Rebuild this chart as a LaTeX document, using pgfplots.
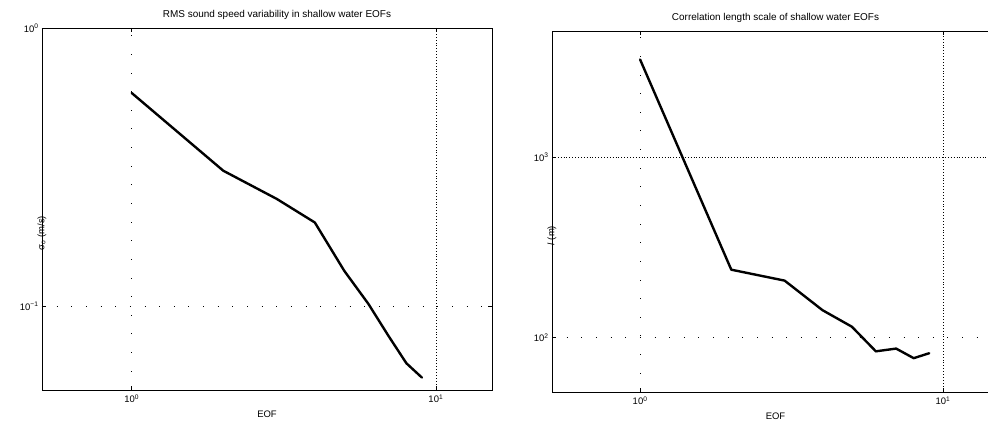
\documentclass[border=0pt]{standalone}
\usepackage{pgfplots}
\pgfplotsset{compat=1.18}
\usepackage{fontspec}
\setmainfont{Liberation Sans}

% RMS sound speed variability per EOF (m/s)
\pgfplotstableread{
eof sigma
1 0.584
2 0.307
3 0.243
4 0.200
5 0.134
6 0.102
7 0.078
8 0.0624
9 0.0554
}\rmsdata

% correlation length scale per EOF (m)
\pgfplotstableread{
eof len
1 3475
2 238
3 207
4 142
5 115
6 84
7 87
8 77
9 82
}\lendata

\pgfplotsset{
  every axis/.append style={
    scale only axis,
    anchor=south west,
    axis line style={line width=0.8pt},
    tick align=inside,
    major tick length=4bp,
    xminorticks=false, yminorticks=false,
    tick style={line width=0.6pt, black},
    xtick={10}, xticklabels={10\textsuperscript{1}},
    extra x ticks={1}, extra x tick labels={10\textsuperscript{0}},
    extra x tick style={major grid style={black, line width=0.7pt, dash pattern=on 0.7pt off 18pt}},
    extra y tick style={major grid style={black, line width=0.7pt, dash pattern=on 0.7pt off 14pt}},
    xmajorgrids, ymajorgrids,
    major grid style={black, line width=0.7pt, dash pattern=on 0.7pt off 2.2pt},
    font=\fontsize{9.5}{11}\selectfont,
    title style={font=\fontsize{10}{12}\selectfont, at={(axis description cs:0.5,1)}, anchor=south, yshift=-1bp},
    xlabel=EOF,
    xlabel style={at={(axis description cs:0.5,0)}, anchor=center, yshift=-24bp},
    ylabel style={at={(axis description cs:0,0.5)}, anchor=center, xshift=-24bp},
    xticklabel style={yshift=-1bp},
  },
}

\begin{document}
\begin{tikzpicture}[x=1bp, y=1bp]
\useasboundingbox (0,0) rectangle (988,420);

\begin{loglogaxis}[
  at={(42bp,30bp)}, width=450bp, height=362bp,
  xmin=0.507, xmax=15.3,
  ymin=0.05, ymax=1,
  ytick={1}, yticklabels={10\textsuperscript{0}},
  extra y ticks={0.1}, extra y tick labels={10\textsuperscript{−1}},
  title={RMS sound speed variability in shallow water EOFs},
  title style={xshift=10bp},
  ylabel={σ\textsubscript{o} (m/s)},
]
\addplot[black, line width=2.4pt, line join=round, line cap=round] table[x=eof, y=sigma] {\rmsdata};
\end{loglogaxis}

\begin{loglogaxis}[
  at={(552bp,28bp)}, width=447bp, height=361bp,
  xmin=0.512, xmax=15.3,
  ymin=50, ymax=5000,
  ytick={1000}, yticklabels={10\textsuperscript{3}},
  extra y ticks={100}, extra y tick labels={10\textsuperscript{2}},
  title={Correlation length scale of shallow water EOFs},
  ylabel={\textit{l} (m)},
]
\addplot[black, line width=2.4pt, line join=round, line cap=round] table[x=eof, y=len] {\lendata};
\end{loglogaxis}
\end{tikzpicture}
\end{document}
